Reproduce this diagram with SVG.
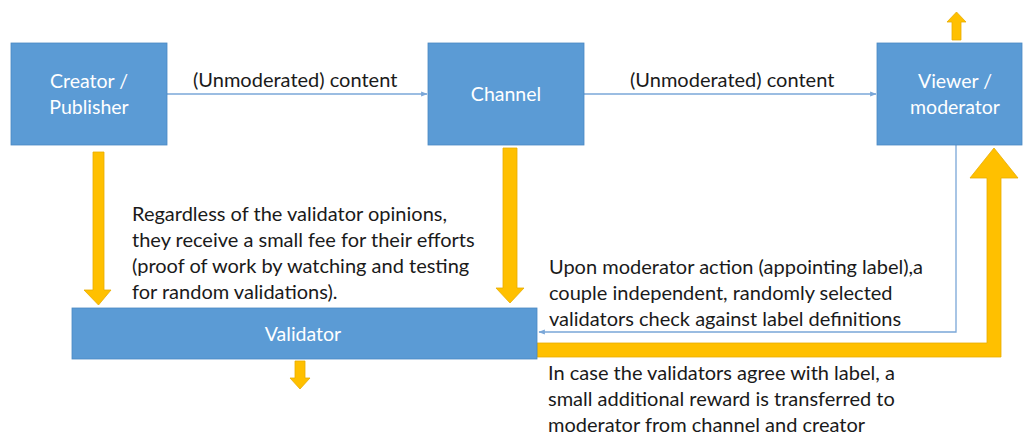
<svg xmlns="http://www.w3.org/2000/svg" width="1024" height="436" viewBox="0 0 1024 436">
  <defs>
    <style>
      .box { fill: #5b9bd5; stroke: #4a88c2; stroke-width: 0.8; }
      .btxt { font-family: Lato, "Open Sans", sans-serif; font-size: 19.5px; fill: #ffffff; text-anchor: middle; }
      .txt { font-family: Lato, "Open Sans", sans-serif; font-size: 20px; fill: #1a1a1a; }
      .thin { stroke: #7aa7d8; stroke-width: 1.3; fill: none; }
      .gold { fill: #ffc000; stroke: #e8ac00; stroke-width: 0.8; }
    </style>
    <marker id="ah" viewBox="0 0 10 10" refX="9" refY="5" markerWidth="5" markerHeight="5" orient="auto">
      <path d="M0,1 L10,5 L0,9 z" fill="#7aa7d8"/>
    </marker>
  </defs>
  <rect width="1024" height="436" fill="#ffffff"/>

  <g id="connectors">
    <line class="thin" x1="167" y1="94" x2="427" y2="94" marker-end="url(#ah)"/>
    <line class="thin" x1="584" y1="94" x2="876" y2="94" marker-end="url(#ah)"/>
    <polyline class="thin" points="956,145 956,332 539,332" marker-end="url(#ah)"/>
    <path class="gold" d="M93,152 H104 V290 H111 L98.5,305 L84,290 H93 Z"/>
    <path class="gold" d="M503,148 H517 V288 H524 L510,303 L496,288 H503 Z"/>
    <path class="gold" d="M295,361 H305 V378 H310 L300,389 L290,378 H295 Z"/>
    <path class="gold" d="M952,40 H961 V22 H966 L956.5,12 L947,22 H952 Z"/>
    <path class="gold" d="M537,343 H987 V178 H970 L994,148 L1018,178 H1001 V357 H537 Z"/>
  </g>

  <g id="creator">
    <rect class="box" x="11" y="43" width="156" height="102"/>
    <text class="btxt" x="89" y="88">Creator /</text>
    <text class="btxt" x="89" y="114">Publisher</text>
  </g>
  <g id="channel">
    <rect class="box" x="428" y="43" width="156" height="102"/>
    <text class="btxt" x="506" y="101">Channel</text>
  </g>
  <g id="viewer">
    <rect class="box" x="877" y="43" width="145" height="102"/>
    <text class="btxt" x="955" y="88">Viewer /</text>
    <text class="btxt" x="955" y="114">moderator</text>
  </g>
  <g id="validator">
    <rect class="box" x="72" y="308" width="465" height="51"/>
    <text class="btxt" x="303" y="341">Validator</text>
  </g>

  <g id="labels">
    <text class="txt" x="193" y="87">(Unmoderated) content</text>
    <text class="txt" x="630" y="87">(Unmoderated) content</text>
    <text class="txt" x="132" y="221">Regardless of the validator opinions,</text>
    <text class="txt" x="132" y="247">they receive a small fee for their efforts</text>
    <text class="txt" x="132" y="273">(proof of work by watching and testing</text>
    <text class="txt" x="132" y="299">for random validations).</text>
    <text class="txt" x="549" y="274">Upon moderator action (appointing label),a</text>
    <text class="txt" x="549" y="300">couple independent, randomly selected</text>
    <text class="txt" x="549" y="326">validators check against label definitions</text>
    <text class="txt" x="548" y="380">In case the validators agree with label, a</text>
    <text class="txt" x="548" y="406">small additional reward is transferred to</text>
    <text class="txt" x="548" y="432">moderator from channel and creator</text>
  </g>
</svg>
